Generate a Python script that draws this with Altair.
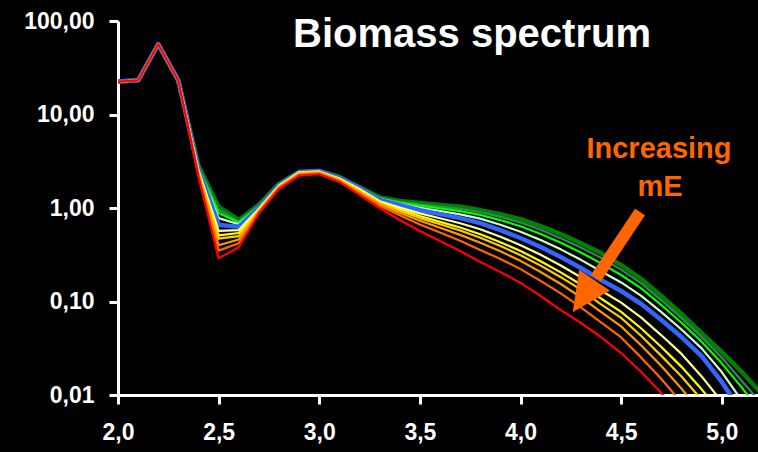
import altair as alt
import pandas as pd

# ---------------- data ----------------
x_vals = [2.0, 2.1, 2.2, 2.3, 2.4, 2.5, 2.6, 2.7, 2.8, 2.9,
          3.0, 3.1, 3.2, 3.3, 3.4, 3.5, 3.6, 3.7, 3.8, 3.9,
          4.0, 4.1, 4.2, 4.3, 4.4, 4.5, 4.6, 4.7, 4.8, 4.9,
          5.0, 5.1, 5.2]

s_dark_green = [22.5, 23.2, 56.5, 23.0, 2.81, 1.03, 0.745, 1.08, 1.81, 2.43,
                2.49, 2.15, 1.67, 1.30, 1.19, 1.13, 1.08, 1.03, 0.95, 0.86,
                0.76, 0.64, 0.527, 0.42, 0.33, 0.245, 0.174, 0.1145, 0.0735, 0.046,
                0.0288, 0.0176, 0.0102]
s_teal = [22.5, 23.2, 56.5, 23.0, 2.75, 0.95, 0.72, 1.06, 1.80, 2.43,
          2.49, 2.14, 1.66, 1.28, 1.167, 1.096, 1.035, 0.977, 0.90, 0.804,
          0.70, 0.585, 0.476, 0.378, 0.293, 0.219, 0.156, 0.103, 0.0664, 0.0416,
          0.0252, 0.0141, 0.008]
s_green = [22.5, 23.2, 56.5, 23.0, 2.70, 0.885, 0.70, 1.04, 1.79, 2.43,
           2.49, 2.13, 1.66, 1.27, 1.146, 1.06, 0.99, 0.925, 0.843, 0.743,
           0.638, 0.527, 0.426, 0.334, 0.256, 0.192, 0.138, 0.0914, 0.0593, 0.0372,
           0.0218, 0.012, 0.0063]
s_pale = [22.5, 23.2, 56.5, 23.0, 2.65, 0.78, 0.67, 1.02, 1.77, 2.43,
          2.49, 2.12, 1.65, 1.245, 1.11, 1.007, 0.929, 0.855, 0.769, 0.662,
          0.557, 0.454, 0.361, 0.279, 0.211, 0.16, 0.115, 0.077, 0.0502, 0.0315,
          0.0176, 0.0087, 0.0045]
s_blue = [22.5, 23.2, 56.5, 23.0, 2.61, 0.66, 0.63, 1.0, 1.76, 2.43,
          2.49, 2.10, 1.64, 1.22, 1.08, 0.95, 0.86, 0.78, 0.69, 0.58,
          0.478, 0.383, 0.299, 0.228, 0.17, 0.1295, 0.094, 0.0634, 0.0417, 0.0261,
          0.0138, 0.0065]
s_light_yellow = [22.5, 23.2, 56.5, 23.0, 2.52, 0.57, 0.58, 0.98, 1.74, 2.41,
                  2.46, 2.07, 1.60, 1.18, 1.01, 0.877, 0.776, 0.687, 0.593, 0.493,
                  0.40, 0.316, 0.243, 0.182, 0.131, 0.0973, 0.0673, 0.0435, 0.0275, 0.0158,
                  0.0085]
s_yellow = [22.5, 23.2, 56.5, 23.0, 2.45, 0.51, 0.54, 0.96, 1.72, 2.39,
            2.44, 2.04, 1.56, 1.15, 0.97, 0.82, 0.711, 0.618, 0.524, 0.431,
            0.347, 0.27, 0.205, 0.152, 0.1076, 0.0776, 0.0514, 0.0326, 0.020, 0.0115,
            0.0063]
s_gold = [22.5, 23.2, 56.5, 23.0, 2.40, 0.47, 0.50, 0.94, 1.70, 2.36,
          2.42, 2.01, 1.52, 1.13, 0.935, 0.78, 0.67, 0.574, 0.48, 0.393,
          0.313, 0.242, 0.182, 0.134, 0.0933, 0.0668, 0.0428, 0.0262, 0.0158, 0.0089]
s_orange = [22.5, 23.2, 56.5, 23.0, 2.32, 0.40, 0.46, 0.92, 1.67, 2.32,
            2.38, 1.98, 1.48, 1.10, 0.89, 0.73, 0.615, 0.516, 0.424, 0.344,
            0.272, 0.207, 0.154, 0.111, 0.0774, 0.0542, 0.0339, 0.0204, 0.0117, 0.0063]
s_orange_red = [22.5, 23.2, 56.5, 23.0, 2.24, 0.35, 0.42, 0.90, 1.64, 2.27,
                2.34, 1.94, 1.43, 1.06, 0.835, 0.667, 0.546, 0.446, 0.356, 0.285,
                0.222, 0.166, 0.122, 0.0867, 0.0598, 0.0413, 0.0251, 0.0148, 0.0083]
s_red = [22.5, 23.2, 56.5, 23.0, 2.15, 0.29, 0.38, 0.88, 1.60, 2.22,
         2.30, 1.90, 1.38, 1.00, 0.745, 0.567, 0.444, 0.347, 0.264, 0.207,
         0.158, 0.1145, 0.081, 0.0589, 0.0417, 0.0281, 0.0176, 0.0105, 0.005]

series_names = ["dark green", "teal", "green", "pale", "blue", "light yellow",
                "yellow", "gold", "orange", "orange red", "red"]
series_values = [s_dark_green, s_teal, s_green, s_pale, s_blue, s_light_yellow,
                 s_yellow, s_gold, s_orange, s_orange_red, s_red]

x_ticks = [2.0, 2.5, 3.0, 3.5, 4.0, 4.5, 5.0]
y_ticks = [0.01, 0.1, 1, 10, 100]

title_text = "Biomass spectrum"
note_lines = ["Increasing", "mE"]

# ---------------- styles ----------------
colors = {"dark green": "#008000", "teal": "#2E8B57", "green": "#00FF00",
          "pale": "#CCFFCC", "blue": "#3366FF", "light yellow": "#FFFF99",
          "yellow": "#FFFF00", "gold": "#FFCC00", "orange": "#FF9900",
          "orange red": "#FF6600", "red": "#FF0000"}
widths = {"dark green": 4.5, "blue": 4.5}
FONT = "Liberation Sans"
ORANGE = "#FF6600"

X = alt.X("x:Q",
          scale=alt.Scale(domain=[2.0, 5.18], nice=False, zero=False),
          axis=alt.Axis(values=x_ticks, title=None, grid=False,
                        labelExpr="replace(format(datum.value, '.1f'), '.', ',')"))
Y = alt.Y("v:Q",
          scale=alt.Scale(type="log", domain=[0.01, 100], nice=False),
          axis=alt.Axis(values=y_ticks, title=None, grid=False,
                        labelExpr="replace(format(datum.value, '.2f'), '.', ',')"))

layers = []
for name, vals in zip(series_names, series_values):
    df = pd.DataFrame({"x": x_vals[:len(vals)], "v": vals, "s": name})
    layers.append(
        alt.Chart(df).mark_line(clip=True, color=colors[name],
                                strokeWidth=widths.get(name, 2.2),
                                strokeJoin="round")
        .encode(x=X, y=Y)
    )

dummy = pd.DataFrame({"t": [title_text]})
title = alt.Chart(dummy).mark_text(
    color="white", font=FONT, fontWeight="bold", fontSize=40,
    align="center", baseline="alphabetic"
).encode(text="t:N", x=alt.value(354), y=alt.value(26))

note1 = alt.Chart(pd.DataFrame({"t": [note_lines[0]]})).mark_text(
    color=ORANGE, font=FONT, fontWeight="bold", fontSize=29,
    align="center", baseline="alphabetic"
).encode(text="t:N", x=alt.value(541), y=alt.value(137))
note2 = alt.Chart(pd.DataFrame({"t": [note_lines[1]]})).mark_text(
    color=ORANGE, font=FONT, fontWeight="bold", fontSize=29,
    align="center", baseline="alphabetic"
).encode(text="t:N", x=alt.value(542), y=alt.value(175))

shaft = alt.Chart(pd.DataFrame({"a": [0]})).mark_rule(
    color=ORANGE, strokeWidth=12, strokeCap="butt"
).encode(x=alt.value(522), y=alt.value(191), x2=alt.value(478), y2=alt.value(257))
head = alt.Chart(pd.DataFrame({"a": [0]})).mark_point(
    shape="M0,1L-0.95,-1L0.95,-1Z", size=1521, angle=34, filled=True,
    color=ORANGE, opacity=1, strokeWidth=0
).encode(x=alt.value(465.6), y=alt.value(275.2))

chart = alt.layer(*layers, title, note1, note2, shaft, head).properties(
    width=640, height=374,
    autosize="none",
    padding={"left": 118, "top": 21, "right": 0, "bottom": 57},
    background="black",
).configure_view(stroke=None).configure_axis(
    domainColor="white", domainWidth=3, tickColor="white", tickWidth=3,
    tickSize=9, labelColor="white", labelFont=FONT, labelFontWeight="bold",
    labelFontSize=23, labelFlush=False, labelOverlap=False
).configure_axisX(labelPadding=17).configure_axisY(labelPadding=15)

chart.save("out.html", embed_options={"renderer": "svg", "actions": False})
